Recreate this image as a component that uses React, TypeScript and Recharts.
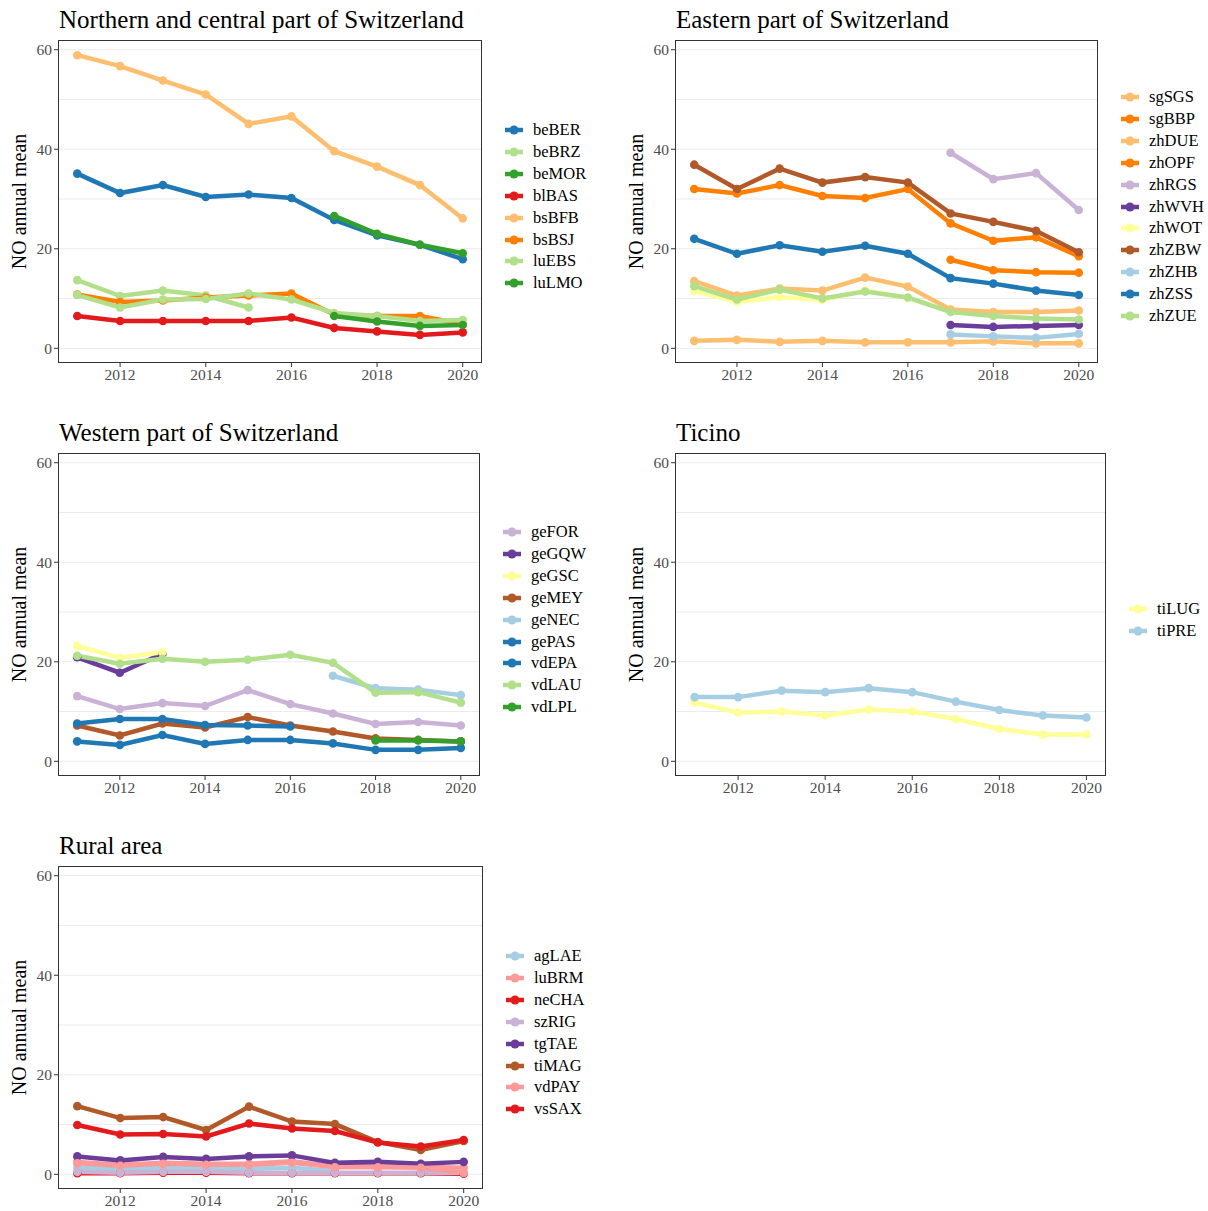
import React from 'react';
import { LineChart, Line, XAxis, YAxis, CartesianGrid } from 'recharts';

const years = [2011, 2012, 2013, 2014, 2015, 2016, 2017, 2018, 2019, 2020];
const xTicks = [2012, 2014, 2016, 2018, 2020];
const yTicks = [0, 20, 40, 60];
const gridValues = [0, 10, 20, 30, 40, 50, 60];

const _ = null;

// Northern and central part
const beBER = [35.1, 31.2, 32.8, 30.4, 30.9, 30.2, 25.8, 22.7, 20.8, 17.9];
const beBRZ = [13.7, 10.5, 11.6, 10.6, 8.2, _, _, _, _, _];
const beMOR = [_, _, _, _, _, _, 26.6, 23.0, 20.8, 19.1];
const blBAS = [6.5, 5.5, 5.5, 5.5, 5.5, 6.2, 4.1, 3.4, 2.7, 3.2];
const bsBFB = [58.9, 56.7, 53.8, 51.0, 45.1, 46.6, 39.6, 36.5, 32.8, 26.1];
const bsBSJ = [10.8, 9.3, 9.6, 10.2, 10.6, 11.0, 6.8, 6.5, 6.5, 4.9];
const luEBS = [10.7, 8.2, 9.8, 9.9, 11.0, 9.8, 7.1, 6.5, 5.5, 5.7];
const luLMO = [_, _, _, _, _, _, 6.5, 5.4, 4.5, 4.7];

// Eastern part
const sgSGS = [1.5, 1.7, 1.3, 1.5, 1.2, 1.2, 1.2, 1.4, 1.0, 1.0];
const sgBBP = [_, _, _, _, _, _, 17.8, 15.7, 15.3, 15.2];
const zhDUE = [13.5, 10.6, 12.0, 11.6, 14.2, 12.4, 7.8, 7.3, 7.3, 7.6];
const zhOPF = [32.0, 31.1, 32.8, 30.6, 30.2, 32.0, 25.1, 21.6, 22.3, 18.5];
const zhRGS = [_, _, _, _, _, _, 39.3, 34.0, 35.2, 27.8];
const zhWVH = [_, _, _, _, _, _, 4.7, 4.3, 4.5, 4.7];
const zhWOT = [11.5, 9.3, 10.3, 9.7, 11.6, 10.1, _, _, _, _];
const zhZBW = [36.9, 32.0, 36.1, 33.3, 34.4, 33.3, 27.1, 25.4, 23.6, 19.3];
const zhZHB = [_, _, _, _, _, _, 2.8, 2.4, 2.1, 2.9];
const zhZSS = [22.0, 19.0, 20.7, 19.4, 20.6, 19.0, 14.1, 13.0, 11.6, 10.7];
const zhZUE = [12.5, 9.8, 11.8, 10.0, 11.4, 10.2, 7.3, 6.5, 6.0, 5.8];

// Western part
const geFOR = [13.1, 10.5, 11.7, 11.1, 14.3, 11.5, 9.6, 7.5, 7.9, 7.2];
const geGQW = [20.9, 17.8, 21.6, _, _, _, _, _, _, _];
const geGSC = [23.2, 20.8, 21.9, _, _, _, _, _, _, _];
const geMEY = [7.2, 5.2, 7.6, 6.8, 8.9, 7.2, 6.0, 4.6, 4.3, 4.0];
const geNEC = [_, _, _, _, _, _, 17.2, 14.7, 14.4, 13.3];
const gePAS = [7.6, 8.5, 8.5, 7.3, 7.2, 7.0, _, _, _, _];
const vdEPA = [4.0, 3.3, 5.3, 3.5, 4.3, 4.3, 3.6, 2.3, 2.3, 2.7];
const vdLAU = [21.2, 19.6, 20.6, 20.0, 20.4, 21.4, 19.8, 13.8, 13.9, 11.8];
const vdLPL = [_, _, _, _, _, _, _, 4.2, 4.2, 4.0];

// Ticino
const tiLUG = [11.8, 9.8, 10.0, 9.2, 10.4, 10.0, 8.5, 6.5, 5.4, 5.4];
const tiPRE = [12.9, 12.9, 14.2, 13.9, 14.7, 13.9, 12.0, 10.3, 9.2, 8.8];

// Rural area
const agLAE = [1.3, 1.0, 1.3, 1.3, 1.1, 1.3, 0.6, _, _, _];
const luBRM = [2.5, 1.9, 2.3, 2.1, 2.1, 2.6, 1.6, 1.6, 1.5, 1.3];
const neCHA = [0.2, 0.2, 0.3, 0.3, 0.2, 0.2, 0.2, 0.2, 0.2, 0.1];
const szRIG = [0.5, 0.3, 0.5, 0.5, 0.3, 0.3, 0.3, 0.3, 0.3, 0.3];
const tgTAE = [3.6, 2.8, 3.5, 3.1, 3.6, 3.8, 2.3, 2.5, 2.1, 2.5];
const tiMAG = [13.7, 11.3, 11.5, 8.9, 13.6, 10.6, 10.1, 6.5, 4.9, 6.7];
const vdPAY = [2.2, 1.7, 2.1, 1.9, 1.9, 2.3, 1.4, 1.4, 1.3, 0.3];
const vsSAX = [9.9, 8.0, 8.1, 7.6, 10.2, 9.2, 8.7, 6.4, 5.6, 6.9];

// ColorBrewer "Paired"
const lightBlue = '#A6CEE3';
const blue = '#1F78B4';
const lightGreen = '#B2DF8A';
const green = '#33A02C';
const pink = '#FB9A99';
const red = '#E31A1C';
const lightOrange = '#FDBF6F';
const orange = '#FF7F00';
const lavender = '#CAB2D6';
const purple = '#6A3D9A';
const yellow = '#FFFF99';
const brown = '#B15928';

type Series = { name: string; color: string; values: (number | null)[] };

const northSeries: Series[] = [
  { name: 'beBER', color: blue, values: beBER },
  { name: 'beBRZ', color: lightGreen, values: beBRZ },
  { name: 'beMOR', color: green, values: beMOR },
  { name: 'blBAS', color: red, values: blBAS },
  { name: 'bsBFB', color: lightOrange, values: bsBFB },
  { name: 'bsBSJ', color: orange, values: bsBSJ },
  { name: 'luEBS', color: lightGreen, values: luEBS },
  { name: 'luLMO', color: green, values: luLMO },
];

const eastSeries: Series[] = [
  { name: 'sgSGS', color: lightOrange, values: sgSGS },
  { name: 'sgBBP', color: orange, values: sgBBP },
  { name: 'zhDUE', color: lightOrange, values: zhDUE },
  { name: 'zhOPF', color: orange, values: zhOPF },
  { name: 'zhRGS', color: lavender, values: zhRGS },
  { name: 'zhWVH', color: purple, values: zhWVH },
  { name: 'zhWOT', color: yellow, values: zhWOT },
  { name: 'zhZBW', color: brown, values: zhZBW },
  { name: 'zhZHB', color: lightBlue, values: zhZHB },
  { name: 'zhZSS', color: blue, values: zhZSS },
  { name: 'zhZUE', color: lightGreen, values: zhZUE },
];

const westSeries: Series[] = [
  { name: 'geFOR', color: lavender, values: geFOR },
  { name: 'geGQW', color: purple, values: geGQW },
  { name: 'geGSC', color: yellow, values: geGSC },
  { name: 'geMEY', color: brown, values: geMEY },
  { name: 'geNEC', color: lightBlue, values: geNEC },
  { name: 'gePAS', color: blue, values: gePAS },
  { name: 'vdEPA', color: blue, values: vdEPA },
  { name: 'vdLAU', color: lightGreen, values: vdLAU },
  { name: 'vdLPL', color: green, values: vdLPL },
];

const ticinoSeries: Series[] = [
  { name: 'tiLUG', color: yellow, values: tiLUG },
  { name: 'tiPRE', color: lightBlue, values: tiPRE },
];

const ruralSeries: Series[] = [
  { name: 'agLAE', color: lightBlue, values: agLAE },
  { name: 'luBRM', color: pink, values: luBRM },
  { name: 'neCHA', color: red, values: neCHA },
  { name: 'szRIG', color: lavender, values: szRIG },
  { name: 'tgTAE', color: purple, values: tgTAE },
  { name: 'tiMAG', color: brown, values: tiMAG },
  { name: 'vdPAY', color: pink, values: vdPAY },
  { name: 'vsSAX', color: red, values: vsSAX },
];

const FONT = '"Liberation Serif", "Times New Roman", serif';
const AXIS_W = 58;

interface PanelProps {
  title: string;
  left: number; // plot area, page coords
  top: number;
  width: number;
  height: number;
  series: Series[];
  legendTop: number; // centre of first legend row
}

const Panel: React.FC<PanelProps> = ({ title, left, top, width, height, series, legendTop }) => {
  const data = years.map((year, i) => {
    const row: Record<string, number | null> = { year };
    series.forEach((s) => {
      row[s.name] = s.values[i];
    });
    return row;
  });

  return (
    <>
      <div
        style={{
          position: 'absolute',
          left: left + 1,
          top: top - 33,
          fontSize: 25,
          lineHeight: '25px',
          fontFamily: FONT,
          color: '#000',
          whiteSpace: 'nowrap',
        }}
      >
        {title}
      </div>
      <div style={{ position: 'absolute', left: left - AXIS_W, top }}>
        <LineChart
          width={AXIS_W + width + 6}
          height={height + 30}
          data={data}
          margin={{ top: 0, right: 6, bottom: 0, left: 0 }}
          style={{ fontFamily: FONT }}
        >
          <CartesianGrid
            vertical={false}
            horizontalValues={gridValues}
            stroke="#EBEBEB"
            strokeWidth={1.1}
          />
          <XAxis
            dataKey="year"
            type="number"
            domain={[2010.55, 2020.45]}
            ticks={xTicks}
            allowDataOverflow
            axisLine={false}
            tickLine={{ stroke: '#333333' }}
            tickSize={4}
            tickMargin={2}
            height={30}
            tick={{ fill: '#4D4D4D', fontSize: 15.5, fontFamily: FONT }}
          />
          <YAxis
            type="number"
            domain={[-2.95, 61.95]}
            ticks={yTicks}
            allowDataOverflow
            width={AXIS_W}
            axisLine={false}
            tickLine={{ stroke: '#333333' }}
            tickSize={4}
            tickMargin={2}
            tick={{ fill: '#4D4D4D', fontSize: 15.5, fontFamily: FONT }}
            label={{
              value: 'NO annual mean',
              angle: -90,
              position: 'insideLeft',
              offset: 19,
              style: { textAnchor: 'middle', fontSize: 20, fill: '#000', fontFamily: FONT },
            }}
          />
          {series.map((s) => (
            <Line
              key={s.name}
              type="linear"
              dataKey={s.name}
              stroke={s.color}
              strokeWidth={4.5}
              dot={{ r: 4.3, fill: s.color, stroke: s.color, strokeWidth: 0 }}
              activeDot={false}
              connectNulls={false}
              isAnimationActive={false}
            />
          ))}
        </LineChart>
        <div
          style={{
            position: 'absolute',
            left: AXIS_W,
            top: 0,
            width,
            height,
            border: '1px solid #333333',
            boxSizing: 'border-box',
            pointerEvents: 'none',
          }}
        />
      </div>
      {series.map((s, i) => (
        <div
          key={s.name}
          style={{
            position: 'absolute',
            left: left + width + 23,
            top: legendTop - 11 + i * 21.9,
            height: 22,
            display: 'flex',
            alignItems: 'center',
            fontFamily: FONT,
            fontSize: 16.5,
            color: '#000',
            whiteSpace: 'nowrap',
          }}
        >
          <svg width={28} height={22} style={{ display: 'block' }}>
            <line x1={0} y1={11} x2={18} y2={11} stroke={s.color} strokeWidth={4.5} />
            <circle cx={9} cy={11} r={4.5} fill={s.color} />
          </svg>
          <span>{s.name}</span>
        </div>
      ))}
    </>
  );
};

export default function App() {
  return (
    <div style={{ position: 'absolute', left: 0, top: 0, width: 1208, height: 1211, background: '#fff' }}>
      <Panel title="Northern and central part of Switzerland" left={58} top={40} width={424} height={323} series={northSeries} legendTop={130} />
      <Panel title="Eastern part of Switzerland" left={675} top={40} width={423} height={323} series={eastSeries} legendTop={97} />
      <Panel title="Western part of Switzerland" left={58} top={453} width={422} height={323} series={westSeries} legendTop={532} />
      <Panel title="Ticino" left={675} top={453} width={431} height={323} series={ticinoSeries} legendTop={609} />
      <Panel title="Rural area" left={58} top={866} width={425} height={323} series={ruralSeries} legendTop={956} />
    </div>
  );
}
